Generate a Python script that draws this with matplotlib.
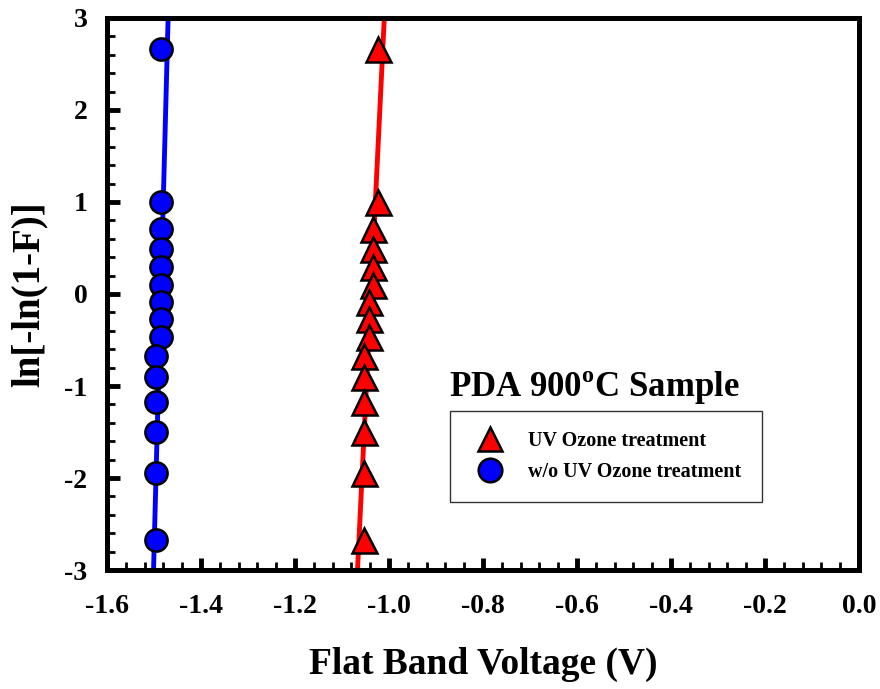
import matplotlib
matplotlib.use("Agg")
import matplotlib.pyplot as plt
from matplotlib.ticker import MultipleLocator

plt.rcParams['font.family'] = ['Liberation Serif', 'DejaVu Serif']
plt.rcParams['font.weight'] = 'bold'
plt.rcParams['axes.unicode_minus'] = False
plt.rcParams['mathtext.fontset'] = 'custom'
plt.rcParams['mathtext.rm'] = 'Liberation Serif:bold'
plt.rcParams['mathtext.bf'] = 'Liberation Serif:bold'

# Weibull plot values
weibull_y = [2.66, 1.00, 0.707, 0.489, 0.293, 0.098, -0.087, -0.272, -0.467,
             -0.674, -0.902, -1.174, -1.50, -1.946, -2.674]
vfb_uv = [-1.023, -1.023, -1.033, -1.033, -1.033, -1.033, -1.043, -1.043, -1.043,
          -1.053, -1.053, -1.053, -1.053, -1.053, -1.053]
vfb_no_uv = [-1.486, -1.486, -1.486, -1.486, -1.486, -1.486, -1.486, -1.486, -1.486,
             -1.496, -1.496, -1.496, -1.496, -1.496, -1.496]

# fitted lines (ends at y = -3 and y = 3)
fit_y = [-3, 3]
fit_uv = [-1.067, -1.010]
fit_no_uv = [-1.501, -1.470]

fig = plt.figure(figsize=(8.8, 6.89), dpi=100)
ax = fig.add_axes([0.1216, 0.1727, 0.8545, 0.8012])

ax.plot(fit_no_uv, fit_y, color='blue', lw=3.5, zorder=2, solid_capstyle='round')
ax.plot(fit_uv, fit_y, color='red', lw=3.5, zorder=2, solid_capstyle='round')

ax.plot(vfb_uv, weibull_y, ls='none', marker='^', ms=18, mfc='red', mec='black',
        mew=1.8, zorder=3, label='UV Ozone treatment')
ax.plot(vfb_no_uv, weibull_y, ls='none', marker='o', ms=16, mfc='blue', mec='black',
        mew=1.8, zorder=3, label='w/o UV Ozone treatment')

ax.set_xlim(-1.6, 0.0)
ax.set_ylim(-3, 3)
ax.xaxis.set_major_locator(MultipleLocator(0.2))
ax.xaxis.set_minor_locator(MultipleLocator(0.04))
ax.yaxis.set_major_locator(MultipleLocator(1))
ax.yaxis.set_minor_locator(MultipleLocator(0.2))
ax.xaxis.set_major_formatter(plt.FuncFormatter(lambda v, p: f"{v:.1f}"))

ax.tick_params(which='both', direction='in', top=False, right=False, labelsize=20)
ax.tick_params(axis='x', which='major', pad=17)
ax.tick_params(axis='y', which='major', pad=14)
ax.tick_params(which='major', length=9, width=3.5)
ax.tick_params(which='minor', length=6, width=2)
for s in ax.spines.values():
    s.set_linewidth(3.6)

ax.set_xlabel('Flat Band Voltage (V)', fontsize=27, fontweight='bold', labelpad=20)
ax.set_ylabel('ln[-ln(1-F)]', fontsize=28, fontweight='bold', labelpad=12)

ax.text(0.648, 0.33, r'PDA 900$^{\rm o}$C Sample', transform=ax.transAxes,
        fontsize=25, fontweight='bold', ha='center', va='center')

leg = ax.legend(loc='lower left', bbox_to_anchor=(0.456, 0.123), fontsize=14.5,
                frameon=True, fancybox=False, edgecolor='black', borderpad=1.0,
                handletextpad=0.9, labelspacing=0.55, borderaxespad=0,
                handlelength=2.0)
leg.get_frame().set_linewidth(1.0)
for h in leg.legend_handles:
    h.set_markersize(17)

fig.savefig('out.png', dpi=100)
